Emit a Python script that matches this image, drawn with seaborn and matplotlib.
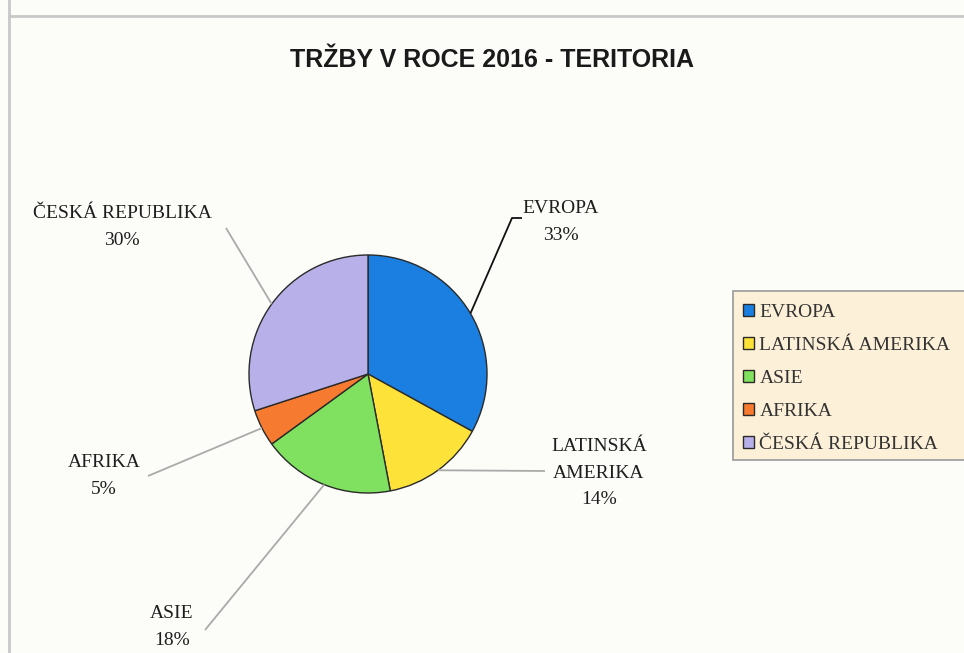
import numpy as np
import matplotlib.pyplot as plt
from matplotlib.patches import Rectangle
import seaborn as sns

# data
regions = ['EVROPA', 'LATINSKÁ AMERIKA', 'ASIE', 'AFRIKA', 'ČESKÁ REPUBLIKA']
shares = [33, 14, 18, 5, 30]
label_text = ['EVROPA', 'LATINSKÁ\nAMERIKA', 'ASIE', 'AFRIKA', 'ČESKÁ REPUBLIKA']
colors = ['#1a7fe0', '#fde23a', '#80e060', '#f67a30', '#b8b0e8']

sns.set_theme(style='white')
plt.rcParams['font.family'] = ['Liberation Serif', 'DejaVu Serif']

W, H = 964, 653
fig = plt.figure(figsize=(W / 100, H / 100), dpi=100, facecolor='#fcfcf9')
ax = fig.add_axes([0, 0, 1, 1])
ax.set_facecolor('#fcfcf9')

cx, cy = 368, H - 374
r = 119
wedges, _ = ax.pie(shares, colors=colors, startangle=90, counterclock=False,
                   center=(cx, cy), radius=r, frame=True,
                   wedgeprops=dict(edgecolor='#2a2a2a', linewidth=1.0))
ax.set_xlim(0, W)
ax.set_ylim(0, H)
ax.axis('off')

# label layout in image coords (y from top): leader points, text centre, leader colour
layout = {
    'EVROPA': ([(512, 218), (522, 218)], (561, 222), '#111111'),
    'LATINSKÁ AMERIKA': ([(545, 471)], (599, 473), '#aaaaaa'),
    'ASIE': ([(205, 630)], (172, 627), '#aaaaaa'),
    'AFRIKA': ([(148, 476)], (104, 476), '#aaaaaa'),
    'ČESKÁ REPUBLIKA': ([(226, 228)], (122, 227), '#aaaaaa'),
}

total = sum(shares)
for w, name, txt, v in zip(wedges, regions, label_text, shares):
    mid = np.deg2rad((w.theta1 + w.theta2) / 2)
    sx, sy = cx + r * np.cos(mid), cy + r * np.sin(mid)
    pts, (tx, ty), lc = layout[name]
    xs = [sx] + [p[0] for p in pts]
    ys = [sy] + [H - p[1] for p in pts]
    ax.plot(xs, ys, color=lc, lw=1.3, solid_capstyle='butt')
    pct = round(100 * v / total)
    ax.text(tx, H - ty, f'{txt}\n{pct}%', ha='center', va='center',
            fontsize=14, color='#1e1e1e', linespacing=1.7)

# chart frame (top and left edges visible in the scan)
ax.plot([9, 9], [H, 0], color='#c8c8c8', lw=2)
ax.plot([9, W], [H - 16, H - 16], color='#c8c8c8', lw=2)

ax.text(492, H - 60, 'TRŽBY V ROCE 2016 - TERITORIA', ha='center', va='center',
        fontsize=18, fontweight='bold', family=['Liberation Sans', 'DejaVu Sans'],
        color='#1a1a1a')

# legend box runs off the right edge in the reference
ax.add_patch(Rectangle((733, H - 460), 260, 169, facecolor='#fdf0d8',
                       edgecolor='#999999', lw=1.2, zorder=2))
leg = ax.legend(wedges, regions, loc='upper left',
                bbox_to_anchor=(737 / W, 1 - 298 / H), bbox_transform=fig.transFigure,
                borderaxespad=0, frameon=False, fontsize=14,
                handlelength=0.55, handleheight=0.55, handletextpad=0.3,
                labelspacing=0.82, borderpad=0.3)
for t in leg.get_texts():
    t.set_color('#333333')
leg.set_zorder(3)

fig.savefig('out.png', dpi=100, facecolor=fig.get_facecolor())
